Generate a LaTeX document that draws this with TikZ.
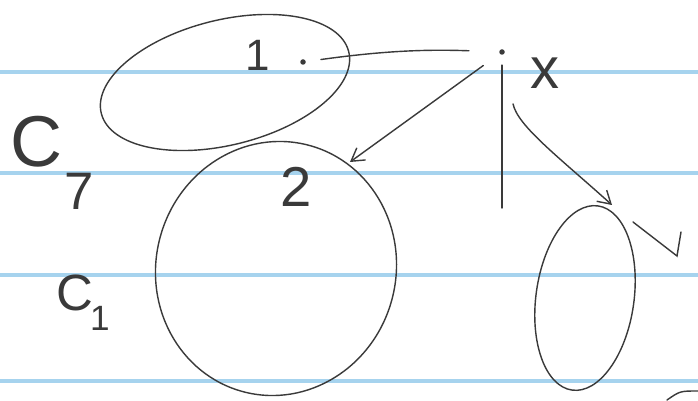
\documentclass[tikz,border=0pt]{standalone}
\usepackage{fontspec}
\usepackage{tikz}
\usetikzlibrary{arrows.meta,positioning}
\newfontfamily\handfont{Liberation Sans}
\definecolor{RuleBlue}{HTML}{A6D3EE}
\definecolor{Ink}{HTML}{3A3A3A}

\begin{document}
\begin{tikzpicture}[
    ink/.style={draw=Ink,line width=0.8pt,line cap=round},
    rule/.style={draw=RuleBlue,line width=2pt},
    pnode/.style={circle,fill=Ink,inner sep=0pt,minimum size=1.1mm},
    tnode/.style={text=Ink,inner sep=0pt,font=\handfont\fontsize{#1}{#1}\selectfont},
    >={Straight Barb[length=2.5mm,width=3mm]}
  ]
  \useasboundingbox[fill=white] (0,0) rectangle (13.96,8.02);
  % Ruled paper
  \foreach \y in {6.58,4.56,2.52,0.40}
    \draw[rule] (0,\y) -- (13.96,\y);
  % Clusters
  \draw[ink,rotate around={14:(4.5,6.37)}] (4.5,6.37) ellipse (2.55 and 1.25);
  \draw[ink,rotate around={-15:(5.52,2.65)}] (5.52,2.65) ellipse (2.4 and 2.55);
  \draw[ink,rotate around={-8:(11.7,2.06)}] (11.7,2.06) ellipse (0.98 and 1.86);
  % Cluster labels
  \node[tnode=41] (cTop) at (0.74,5.18) {C};
  \node[tnode=30] (cTopSub) at (1.58,4.2) {7};
  \node[tnode=29] (cBot) at (1.5,2.16) {C};
  \node[tnode=20] (cBotSub) at (2.0,1.66) {1};
  % Points
  \node[pnode] (p1) at (6.06,6.78) {};
  \node[pnode] (px) at (10.04,6.98) {};
  \node[tnode=25] (l1) at (5.16,6.92) {1};
  \node[tnode=32] (l2) at (5.92,4.28) {2};
  \node[tnode=33] (lx) at (10.9,6.56) {x};
  \coordinate (a2) at (7.0,4.78);
  \coordinate (vEnd) at (10.04,3.86);
  \coordinate (a3) at (12.24,3.92);
  % Connections
  \draw[ink,shorten <=3mm,shorten >=6mm] (p1) to[bend left=5] (px);
  \draw[ink,->,shorten <=4mm] (px) -- (a2);
  \draw[ink,shorten <=2mm] (px) -- (vEnd);
  \draw[ink,->,shorten <=1cm] (px) to[out=-78,in=138] (a3);
  % Marks
  \draw[ink] (12.66,3.58) -- (13.54,2.9) -- (13.62,3.38);
  \draw[ink] (13.34,0.02) .. controls (13.6,0.2) .. (13.96,0.2);
\end{tikzpicture}
\end{document}
